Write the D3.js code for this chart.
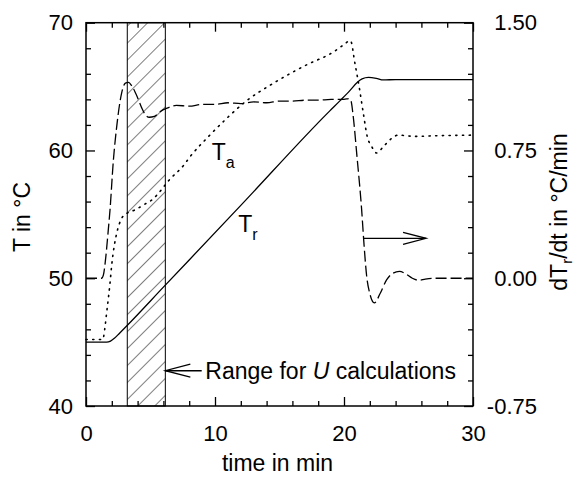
<!DOCTYPE html>
<html>
<head>
<meta charset="utf-8">
<script src="https://cdn.jsdelivr.net/npm/d3@7/dist/d3.min.js"></script>
<style>
  html, body { margin: 0; padding: 0; background: #fff; }
  svg { display: block; font-family: "Liberation Sans", Arial, Helvetica, sans-serif; }
</style>
</head>
<body>
<svg id="chart" width="577" height="477"></svg>
<script>
// ---------- data ----------
const xTickLabels = [0, 10, 20, 30];
const yLeftTickLabels = [40, 50, 60, 70];
const yRightTickLabels = [-0.75, 0.00, 0.75, 1.50];

// Reactor temperature T_r (°C)
const trTime   = [0, 1.6, 1.9, 2.2, 2.6, 3.15, 6.0, 12.0, 18.9, 19.7, 20.47, 21.0, 21.4, 21.9, 22.5, 23.05, 24, 30];
const trValues = [45.0, 45.0, 45.08, 45.3, 45.7, 46.26, 49.3, 55.7, 63.1, 63.9, 64.7, 65.3, 65.6, 65.72, 65.65, 65.52, 65.55, 65.55];

// Jacket / ambient temperature T_a (°C)
const taTime   = [0, 1.3, 1.45, 1.6, 1.73, 1.86, 1.99, 2.2, 2.4, 2.77, 3.2, 3.8, 4.57, 5.2, 5.74, 6.46, 7.54, 8.06, 9.6, 11, 12.46, 14.26, 17.1, 19.17, 19.95, 20.5, 20.85, 21.19, 21.5, 21.8, 22.15, 22.53, 23.05, 23.7, 24.2, 25.5, 27, 30];
const taValues = [45.2, 45.2, 46.0, 47.3, 48.4, 49.6, 51.0, 52.6, 53.6, 54.7, 55.1, 55.35, 55.8, 56.2, 56.8, 57.7, 58.8, 59.5, 61.2, 62.6, 63.9, 65.1, 66.7, 67.7, 68.25, 68.6, 66.8, 64.9, 62.9, 61.1, 60.3, 59.8, 60.3, 60.95, 61.2, 61.1, 61.15, 61.2];

// Heating rate dT_r/dt (°C/min), right axis
const rateTime   = [0, 1.2, 1.35, 1.5, 1.7, 1.86, 2.12, 2.38, 2.77, 3.05, 3.3, 3.54, 4.0, 4.32, 4.6, 4.9, 5.3, 5.7, 6.0, 6.5, 7, 8, 9, 10, 11, 12, 13, 14, 15, 16, 17, 18, 19, 20, 20.4, 20.55, 20.7, 21.0, 21.37, 21.55, 21.76, 22.0, 22.35, 22.8, 23.3, 23.8, 24.3, 24.8, 25.3, 25.8, 26.3, 27, 30];
const rateValues = [0, 0, 0.02, 0.1, 0.26, 0.40, 0.69, 0.89, 1.09, 1.145, 1.15, 1.13, 1.06, 1.0, 0.96, 0.945, 0.95, 0.975, 0.99, 1.005, 1.015, 1.01, 1.02, 1.02, 1.03, 1.025, 1.035, 1.03, 1.04, 1.04, 1.045, 1.045, 1.05, 1.05, 1.055, 1.04, 0.96, 0.72, 0.40, 0.2, 0.01, -0.09, -0.145, -0.09, -0.01, 0.03, 0.04, 0.025, 0.0, -0.012, -0.005, 0, 0];

// Range used for U calculations (min)
const uRange = [3.2, 6.15];

// ---------- layout ----------
const L = 86, R = 473, T = 22.7, B = 406;
const svg = d3.select("#chart");

const x = d3.scaleLinear().domain([0, 30]).range([L, R]);
const yL = d3.scaleLinear().domain([40, 70]).range([B, T]);
const yR = d3.scaleLinear().domain([-0.75, 1.5]).range([B, T]);

// hatch pattern
const defs = svg.append("defs");
const pat = defs.append("pattern")
  .attr("id", "hatch").attr("patternUnits", "userSpaceOnUse")
  .attr("width", 12).attr("height", 12)
  .attr("patternTransform", "rotate(45)");
pat.append("line").attr("x1", 0).attr("y1", -1).attr("x2", 0).attr("y2", 13)
  .attr("stroke", "#000").attr("stroke-width", 1);

svg.append("rect")
  .attr("x", x(uRange[0])).attr("y", T)
  .attr("width", x(uRange[1]) - x(uRange[0])).attr("height", B - T)
  .attr("fill", "url(#hatch)").attr("stroke", "#000").attr("stroke-width", 1);

// curves
const lineL = d3.line().x(d => x(d[0])).y(d => yL(d[1])).curve(d3.curveMonotoneX);
const lineR = d3.line().x(d => x(d[0])).y(d => yR(d[1])).curve(d3.curveMonotoneX);

svg.append("path").datum(d3.zip(trTime, trValues))
  .attr("d", lineL).attr("fill", "none").attr("stroke", "#000").attr("stroke-width", 1.3);

svg.append("path").datum(d3.zip(taTime, taValues))
  .attr("d", lineL).attr("fill", "none").attr("stroke", "#000").attr("stroke-width", 1.6)
  .attr("stroke-dasharray", "1.2,5.5").attr("stroke-linecap", "round");

svg.append("path").datum(d3.zip(rateTime, rateValues))
  .attr("d", lineR).attr("fill", "none").attr("stroke", "#000").attr("stroke-width", 1.3)
  .attr("stroke-dasharray", "11,4");

// frame
svg.append("rect").attr("x", L).attr("y", T).attr("width", R - L).attr("height", B - T)
  .attr("fill", "none").attr("stroke", "#000").attr("stroke-width", 1.5);

// axes
const fontSize = 22;
function styleAxis(g) {
  g.select(".domain").remove();
  g.selectAll(".tick line").attr("stroke", "#000").attr("stroke-width", 1.3);
  g.selectAll(".tick text").attr("fill", "#000").style("font-size", fontSize + "px");
}
const xMinor = d3.range(0, 31, 2).filter(v => v % 10 !== 0);
const yLMinor = d3.range(40, 71, 2).filter(v => v % 10 !== 0);
const yRMinor = d3.range(-0.75, 1.51, 0.15).filter(v => Math.abs((v + 0.75) / 0.75 - Math.round((v + 0.75) / 0.75)) > 1e-6);
const fmtR = v => d3.format(".2f")(v).replace("\u2212", "-");

svg.append("g").attr("transform", `translate(0,${B})`)
  .call(d3.axisBottom(x).tickValues(xTickLabels).tickSize(-9).tickPadding(19).tickFormat(d3.format("d")))
  .call(styleAxis);
svg.append("g").attr("transform", `translate(0,${B})`)
  .call(d3.axisBottom(x).tickValues(xMinor).tickSize(-5).tickFormat(""))
  .call(styleAxis);
svg.append("g").attr("transform", `translate(0,${T})`)
  .call(d3.axisTop(x).tickValues(xTickLabels).tickSize(-9).tickFormat(""))
  .call(styleAxis);
svg.append("g").attr("transform", `translate(0,${T})`)
  .call(d3.axisTop(x).tickValues(xMinor).tickSize(-5).tickFormat(""))
  .call(styleAxis);

svg.append("g").attr("transform", `translate(${L},0)`)
  .call(d3.axisLeft(yL).tickValues(yLeftTickLabels).tickSize(-9).tickPadding(13).tickFormat(d3.format("d")))
  .call(styleAxis);
svg.append("g").attr("transform", `translate(${L},0)`)
  .call(d3.axisLeft(yL).tickValues(yLMinor).tickSize(-5).tickFormat(""))
  .call(styleAxis);

svg.append("g").attr("transform", `translate(${R},0)`)
  .call(d3.axisRight(yR).tickValues(yRightTickLabels).tickSize(-9).tickFormat(fmtR))
  .call(styleAxis)
  .call(g => g.selectAll(".tick text").attr("x", 64).attr("text-anchor", "end"));
svg.append("g").attr("transform", `translate(${R},0)`)
  .call(d3.axisRight(yR).tickValues(yRMinor).tickSize(-5).tickFormat(""))
  .call(styleAxis);

// axis titles
const titleSize = 23;
svg.append("text").attr("x", (L + R) / 2 - 2).attr("y", 471)
  .attr("text-anchor", "middle").style("font-size", titleSize + "px").text("time in min");

svg.append("text").attr("transform", `translate(30,217) rotate(-90)`)
  .attr("text-anchor", "middle").style("font-size", titleSize + "px").text("T in °C");

const rt = svg.append("text").attr("transform", `translate(567,212) rotate(-90)`)
  .attr("text-anchor", "middle").style("font-size", titleSize + "px");
rt.append("tspan").text("dT");
rt.append("tspan").attr("dy", 5).style("font-size", "15px").text("r");
rt.append("tspan").attr("dy", -5).text("/dt in °C/min");

// curve labels
function subLabel(tx, ty, main, sub) {
  const t = svg.append("text").attr("x", x(tx)).attr("y", yL(ty)).style("font-size", "23px");
  t.append("tspan").text(main);
  t.append("tspan").attr("dy", 8).style("font-size", "16px").text(sub);
}
subLabel(9.74, 59.25, "T", "a");
subLabel(11.8, 53.64, "T", "r");

// arrows
function arrow(x1, y1, x2, y2, headLen, headHalf) {
  const g = svg.append("g").attr("stroke", "#000").attr("stroke-width", 1.3).attr("fill", "none");
  g.append("line").attr("x1", x1).attr("y1", y1).attr("x2", x2).attr("y2", y2);
  const dir = Math.sign(x2 - x1);
  g.append("path").attr("d",
    `M${x2 - dir * headLen},${y2 - headHalf} L${x2},${y2} L${x2 - dir * headLen},${y2 + headHalf}`);
}
// arrow to the U range
arrow(x(8.97), yL(42.76), x(uRange[1]), yL(42.76), 25, 6.5);
svg.append("text").attr("x", x(9.25)).attr("y", yL(42.76) + 8).style("font-size", "23px")
  .call(t => {
    t.append("tspan").text("Range for ");
    t.append("tspan").style("font-style", "italic").text("U");
    t.append("tspan").text(" calculations");
  });
// arrow pointing to right axis
arrow(x(21.5), yR(0.234), x(26.36), yR(0.234), 23, 6);
</script>
</body>
</html>
